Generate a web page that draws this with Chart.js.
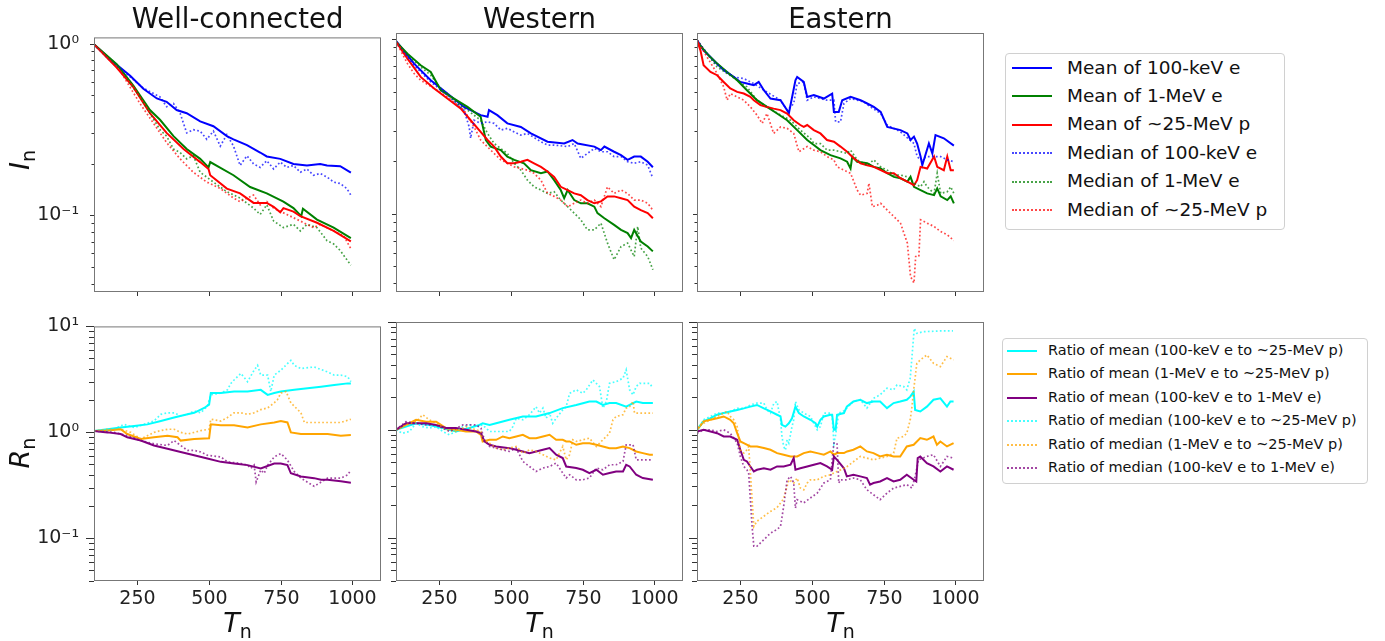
<!DOCTYPE html>
<html>
<head>
<meta charset="utf-8">
<script src="https://cdn.jsdelivr.net/npm/chart.js@4.4.1/dist/chart.umd.min.js"></script>
<style>
  body{margin:0;width:1385px;height:641px;background:#fff;position:relative;overflow:hidden;font-family:"DejaVu Sans",sans-serif;color:#111}
  canvas{position:absolute}
  .title{position:absolute;top:3px;font-size:27.5px;line-height:30px;transform:translateX(-50%);white-space:nowrap}
  .xlab,.ylab{position:absolute;font-size:27px;line-height:1;white-space:nowrap}
  .xlab{transform:translate(-50%,-50%)}
  .ylab{transform:translate(-50%,-50%) rotate(-90deg)}
  .xlab sub,.ylab sub{font-size:19px;vertical-align:-6px;font-style:normal}
  .legend{position:absolute;border:1px solid #d0d0d0;border-radius:4px;background:#fff}
  .lrow{position:absolute;white-space:nowrap}
  .lline{position:absolute;height:0}
</style>
</head>
<body>
<script>
// ---- x positions (T_n) and values, as [T, value] pairs ----
// Top row: normalised intensity I_n
const wcMean100keV = [[100,0.99],[156,0.81],[226,0.65],[272,0.546],[319,0.479],[353,0.458],[388,0.41],[423,0.393],[470,0.352],[516,0.33],[563,0.289],[586,0.277],[633,0.256],[679,0.232],[702,0.22],[749,0.213],[795,0.199],[842,0.195],[888,0.199],[912,0.195],[958,0.193],[995,0.177]];
const wcMean1MeV = [[100,0.99],[179,0.759],[237,0.57],[260,0.5],[295,0.41],[330,0.36],[377,0.289],[423,0.243],[470,0.213],[499,0.19],[505,0.204],[586,0.171],[644,0.146],[702,0.134],[760,0.12],[795,0.11],[822,0.0987],[828,0.109],[877,0.0944],[935,0.0847],[995,0.0736]];
const wcMean25MeV = [[100,0.99],[179,0.726],[237,0.558],[295,0.393],[353,0.302],[412,0.243],[470,0.204],[499,0.186],[505,0.171],[563,0.143],[609,0.134],[656,0.118],[702,0.118],[726,0.112],[749,0.104],[760,0.11],[795,0.105],[819,0.0987],[877,0.0904],[935,0.081],[995,0.0704]];
const wcMedian100keV = [[100,0.99],[156,0.8],[226,0.64],[272,0.55],[330,0.489],[353,0.429],[377,0.448],[400,0.393],[423,0.302],[446,0.315],[470,0.309],[493,0.277],[516,0.309],[540,0.253],[563,0.295],[586,0.253],[609,0.195],[633,0.222],[656,0.199],[679,0.19],[702,0.208],[726,0.186],[749,0.204],[772,0.19],[795,0.195],[819,0.178],[842,0.186],[865,0.171],[888,0.175],[912,0.167],[935,0.156],[958,0.153],[981,0.143],[995,0.131]];
const wcMedian1MeV = [[100,0.99],[191,0.71],[260,0.489],[330,0.315],[353,0.289],[377,0.243],[400,0.232],[423,0.213],[446,0.222],[470,0.178],[516,0.156],[563,0.137],[609,0.126],[656,0.11],[679,0.101],[702,0.115],[726,0.0925],[760,0.0847],[795,0.0885],[819,0.081],[842,0.0885],[877,0.0847],[912,0.071],[935,0.068],[958,0.0623],[995,0.0511]];
const wcMedian25MeV = [[100,0.99],[191,0.695],[260,0.448],[307,0.344],[353,0.265],[400,0.213],[446,0.178],[493,0.156],[540,0.143],[586,0.126],[609,0.12],[656,0.131],[679,0.115],[702,0.12],[726,0.11],[772,0.101],[819,0.0925],[865,0.0847],[888,0.0885],[935,0.081],[970,0.0759],[995,0.0637]];

const wMean100keV = [[100,0.98],[163,0.726],[221,0.583],[279,0.489],[337,0.41],[395,0.368],[419,0.36],[424,0.393],[453,0.368],[488,0.33],[535,0.315],[570,0.289],[628,0.259],[686,0.253],[715,0.265],[733,0.253],[791,0.243],[814,0.232],[826,0.243],[860,0.227],[884,0.217],[907,0.204],[930,0.213],[953,0.213],[977,0.199],[995,0.185]];
const wMean1MeV = [[100,0.97],[140,0.828],[186,0.71],[221,0.65],[256,0.511],[302,0.458],[349,0.41],[395,0.36],[413,0.265],[430,0.243],[465,0.232],[488,0.213],[512,0.204],[546,0.195],[570,0.178],[605,0.171],[628,0.175],[651,0.156],[674,0.137],[686,0.123],[698,0.137],[721,0.12],[744,0.115],[767,0.115],[791,0.11],[802,0.101],[826,0.0944],[860,0.0865],[884,0.081],[907,0.0776],[919,0.0726],[930,0.081],[953,0.0695],[977,0.065],[995,0.061]];
const wMean25MeV = [[100,0.97],[140,0.775],[186,0.609],[233,0.523],[279,0.458],[326,0.401],[360,0.344],[395,0.295],[419,0.265],[442,0.243],[465,0.213],[488,0.195],[512,0.195],[535,0.199],[558,0.204],[581,0.195],[605,0.186],[628,0.175],[651,0.163],[674,0.143],[698,0.137],[721,0.131],[744,0.128],[767,0.12],[791,0.115],[814,0.118],[837,0.126],[860,0.126],[884,0.123],[907,0.12],[930,0.11],[953,0.105],[977,0.101],[995,0.0944]];
const wMedian100keV = [[100,0.97],[163,0.71],[221,0.57],[279,0.479],[337,0.393],[355,0.315],[360,0.271],[372,0.344],[395,0.33],[419,0.337],[442,0.33],[465,0.302],[488,0.309],[512,0.295],[535,0.283],[558,0.289],[605,0.259],[628,0.248],[651,0.248],[698,0.243],[721,0.253],[744,0.208],[767,0.222],[791,0.237],[814,0.227],[837,0.227],[860,0.213],[884,0.213],[907,0.199],[930,0.195],[953,0.199],[977,0.19],[995,0.16]];
const wMedian1MeV = [[100,0.97],[140,0.81],[186,0.695],[221,0.623],[256,0.523],[279,0.489],[314,0.429],[349,0.393],[395,0.344],[419,0.289],[442,0.253],[488,0.222],[512,0.195],[535,0.178],[558,0.156],[581,0.143],[605,0.137],[628,0.131],[651,0.134],[674,0.12],[698,0.11],[721,0.101],[744,0.0925],[767,0.081],[791,0.081],[814,0.0885],[837,0.068],[860,0.0546],[884,0.065],[907,0.068],[930,0.057],[942,0.0847],[953,0.0637],[977,0.057],[995,0.0479]];
const wMedian25MeV = [[100,0.97],[140,0.726],[163,0.637],[186,0.583],[233,0.523],[279,0.468],[337,0.393],[372,0.315],[395,0.265],[430,0.232],[465,0.204],[488,0.195],[512,0.186],[558,0.178],[581,0.171],[605,0.156],[628,0.131],[651,0.126],[674,0.12],[698,0.11],[721,0.115],[744,0.12],[767,0.115],[791,0.12],[814,0.11],[837,0.143],[860,0.131],[884,0.137],[907,0.131],[930,0.12],[953,0.12],[977,0.115],[995,0.105]];

const eMean100keV = [[100,0.99],[123,0.865],[158,0.759],[193,0.665],[228,0.609],[251,0.57],[274,0.558],[298,0.546],[315,0.57],[333,0.511],[356,0.458],[391,0.448],[414,0.393],[420,0.376],[443,0.583],[449,0.609],[472,0.57],[484,0.468],[507,0.479],[542,0.458],[571,0.489],[577,0.384],[594,0.384],[606,0.448],[635,0.468],[670,0.448],[693,0.429],[716,0.41],[740,0.384],[763,0.315],[809,0.302],[833,0.289],[844,0.265],[856,0.277],[867,0.253],[879,0.213],[885,0.19],[908,0.253],[920,0.222],[931,0.283],[960,0.271],[995,0.246]];
const eMean1MeV = [[100,0.97],[135,0.828],[170,0.726],[205,0.65],[240,0.583],[274,0.511],[309,0.448],[344,0.41],[379,0.376],[414,0.344],[449,0.302],[484,0.265],[507,0.248],[530,0.232],[565,0.217],[600,0.208],[623,0.199],[635,0.182],[641,0.213],[658,0.199],[693,0.195],[716,0.186],[740,0.182],[763,0.171],[786,0.163],[809,0.16],[833,0.153],[844,0.163],[856,0.143],[879,0.137],[902,0.131],[926,0.128],[937,0.14],[949,0.126],[972,0.12],[984,0.126],[995,0.115]];
const eMean25MeV = [[100,0.99],[112,0.865],[123,0.71],[147,0.65],[170,0.623],[193,0.57],[216,0.523],[240,0.5],[263,0.489],[286,0.468],[298,0.448],[321,0.42],[344,0.41],[367,0.401],[391,0.393],[414,0.376],[437,0.344],[460,0.323],[472,0.315],[484,0.323],[507,0.302],[530,0.289],[553,0.265],[577,0.259],[600,0.243],[623,0.227],[647,0.208],[670,0.195],[693,0.19],[716,0.186],[740,0.178],[763,0.171],[786,0.171],[809,0.16],[833,0.153],[856,0.146],[867,0.156],[879,0.186],[902,0.182],[926,0.213],[937,0.186],[960,0.178],[972,0.213],[984,0.178],[995,0.178]];
const eMedian100keV = [[100,0.99],[158,0.742],[228,0.609],[263,0.596],[298,0.558],[333,0.511],[391,0.448],[414,0.393],[426,0.41],[437,0.429],[449,0.558],[472,0.57],[484,0.448],[507,0.468],[553,0.448],[577,0.448],[583,0.337],[600,0.337],[612,0.429],[635,0.458],[681,0.438],[705,0.41],[740,0.376],[763,0.323],[809,0.295],[856,0.253],[867,0.213],[879,0.204],[902,0.213],[926,0.213],[949,0.213],[972,0.204],[995,0.199]];
const eMedian1MeV = [[100,0.99],[135,0.828],[170,0.695],[205,0.637],[240,0.583],[274,0.534],[309,0.448],[344,0.41],[391,0.368],[426,0.344],[460,0.302],[495,0.271],[507,0.253],[530,0.253],[553,0.232],[577,0.232],[600,0.227],[623,0.222],[635,0.232],[658,0.204],[693,0.19],[716,0.204],[740,0.186],[763,0.178],[786,0.167],[809,0.167],[833,0.163],[856,0.15],[879,0.143],[891,0.153],[902,0.143],[926,0.131],[937,0.171],[949,0.131],[972,0.134],[984,0.143],[995,0.131]];
const eMedian25MeV = [[100,0.99],[135,0.792],[170,0.637],[193,0.534],[205,0.448],[216,0.489],[240,0.468],[263,0.448],[286,0.41],[309,0.368],[327,0.33],[344,0.376],[367,0.289],[391,0.315],[414,0.309],[437,0.289],[455,0.227],[484,0.243],[507,0.232],[530,0.227],[553,0.213],[577,0.204],[588,0.186],[612,0.178],[635,0.171],[658,0.137],[670,0.128],[693,0.131],[699,0.15],[711,0.11],[728,0.112],[740,0.115],[763,0.105],[786,0.0966],[809,0.0885],[833,0.068],[844,0.0438],[856,0.0402],[862,0.057],[873,0.057],[879,0.0925],[902,0.0885],[926,0.0847],[949,0.0792],[972,0.0759],[995,0.0704]];

// Bottom row: ratios R_n
const wcRatioMean100k25M = [[100,1.03],[147,1.07],[193,1.11],[240,1.15],[286,1.19],[333,1.28],[379,1.38],[426,1.48],[449,1.53],[484,1.7],[501,1.83],[507,2.35],[542,2.35],[588,2.43],[635,2.43],[681,2.52],[705,2.26],[728,2.35],[751,2.43],[798,2.52],[844,2.61],[891,2.7],[937,2.8],[984,2.9],[995,2.9]];
const wcRatioMean1M25M = [[100,1.03],[147,1.04],[193,1.07],[216,0.965],[263,0.868],[309,0.899],[356,0.931],[391,0.899],[402,0.837],[449,0.868],[501,0.88],[507,1.19],[542,1.17],[588,1.17],[635,1.11],[681,1.19],[728,1.24],[751,1.28],[774,1.24],[786,1.0],[821,0.965],[867,0.965],[914,0.965],[960,0.931],[995,0.945]];
const wcRatioMean100k1M = [[100,1.03],[147,1.0],[193,0.965],[216,0.899],[263,0.837],[309,0.753],[356,0.701],[402,0.653],[449,0.608],[495,0.566],[542,0.527],[588,0.509],[635,0.491],[681,0.457],[728,0.509],[751,0.509],[774,0.491],[786,0.411],[821,0.383],[867,0.37],[891,0.357],[914,0.357],[960,0.345],[995,0.335]];
const wcRatioMedian100k25M = [[100,1.03],[170,1.07],[205,1.19],[240,1.11],[274,1.19],[309,1.28],[333,1.48],[356,1.53],[379,1.53],[402,1.43],[426,1.48],[449,1.59],[472,1.53],[495,1.77],[507,2.26],[542,2.35],[565,2.52],[577,2.9],[588,3.12],[612,3.6],[635,3.01],[658,3.86],[670,4.29],[681,3.47],[705,3.47],[716,2.43],[728,3.47],[751,3.86],[774,4.45],[786,4.78],[798,4.29],[821,4.0],[867,4.14],[914,3.72],[937,3.47],[960,3.47],[984,3.35],[995,3.01]];
const wcRatioMedian1M25M = [[100,1.03],[147,1.07],[193,1.07],[228,1.0],[263,0.868],[309,1.0],[333,1.04],[356,1.07],[379,1.07],[402,1.0],[426,0.965],[449,1.0],[472,1.04],[501,1.07],[507,1.33],[542,1.28],[565,1.38],[588,1.53],[612,1.53],[635,1.48],[658,1.53],[681,1.64],[705,1.7],[728,1.9],[739,2.03],[751,2.35],[769,2.43],[786,1.9],[821,1.53],[833,1.24],[867,1.24],[914,1.24],[960,1.24],[995,1.33]];
const wcRatioMedian100k1M = [[100,1.03],[170,1.0],[216,0.931],[263,0.837],[309,0.78],[356,0.753],[379,0.837],[402,0.753],[426,0.676],[449,0.676],[472,0.653],[495,0.608],[542,0.587],[565,0.527],[612,0.509],[635,0.491],[646,0.457],[658,0.491],[665,0.34],[681,0.442],[693,0.411],[705,0.491],[728,0.587],[751,0.63],[763,0.587],[774,0.547],[798,0.426],[821,0.37],[867,0.31],[914,0.37],[960,0.37],[984,0.397],[995,0.442]];

const wRatioMean100k25M = [[100,1.0],[135,1.07],[170,1.15],[216,1.11],[263,1.04],[309,0.965],[356,1.04],[391,1.11],[402,1.15],[426,1.11],[449,1.15],[495,1.24],[542,1.33],[588,1.33],[635,1.43],[681,1.59],[728,1.7],[774,1.83],[798,1.83],[821,1.7],[844,1.77],[867,1.77],[902,1.64],[914,1.7],[937,1.83],[960,1.77],[995,1.77]];
const wRatioMean1M25M = [[100,1.0],[135,1.11],[170,1.24],[205,1.19],[240,1.19],[274,1.04],[309,1.0],[344,0.965],[379,0.965],[396,0.899],[402,0.78],[426,0.808],[449,0.808],[472,0.868],[495,0.837],[519,0.868],[542,0.899],[565,0.837],[588,0.837],[612,0.868],[635,0.899],[658,0.808],[681,0.808],[693,0.78],[705,0.78],[728,0.726],[751,0.752],[774,0.752],[798,0.726],[821,0.701],[844,0.676],[867,0.676],[891,0.701],[914,0.676],[937,0.63],[960,0.608],[984,0.587],[995,0.587]];
const wRatioMean100k1M = [[100,1.0],[135,1.15],[170,1.15],[205,1.15],[240,1.11],[274,1.04],[309,1.04],[344,1.0],[379,0.965],[396,0.931],[408,0.78],[426,0.726],[449,0.701],[495,0.676],[519,0.653],[542,0.63],[565,0.608],[588,0.63],[612,0.653],[635,0.676],[658,0.587],[681,0.547],[693,0.457],[728,0.442],[751,0.426],[774,0.397],[798,0.426],[821,0.383],[844,0.397],[867,0.411],[891,0.411],[902,0.474],[914,0.457],[937,0.383],[960,0.357],[995,0.344]];
const wRatioMedian100k25M = [[100,1.0],[123,0.93],[147,0.965],[170,1.15],[193,1.07],[216,1.04],[240,1.07],[263,0.965],[286,0.9],[309,0.965],[333,1.07],[356,1.11],[379,1.07],[402,1.11],[426,0.965],[449,0.965],[472,0.965],[495,0.965],[507,1.07],[519,1.28],[542,1.24],[565,1.38],[588,1.64],[600,1.43],[612,1.59],[623,1.28],[635,1.43],[646,1.15],[658,1.28],[681,1.53],[693,1.64],[705,2.18],[728,2.35],[751,2.18],[763,2.35],[786,2.9],[809,2.52],[821,1.59],[833,1.83],[844,2.7],[867,2.8],[891,3.01],[902,3.6],[914,2.35],[926,2.11],[937,2.52],[949,2.7],[984,2.7],[995,2.43]];
const wRatioMedian1M25M = [[100,1.0],[135,1.11],[170,1.19],[193,1.38],[216,1.24],[240,1.15],[274,1.0],[309,0.965],[344,1.07],[379,1.0],[396,0.965],[402,0.808],[426,0.752],[449,0.676],[472,0.653],[495,0.676],[519,0.701],[542,0.608],[565,0.653],[588,0.63],[612,0.587],[635,0.547],[658,0.527],[681,0.701],[693,0.527],[705,0.587],[716,0.808],[728,0.78],[751,0.808],[774,0.837],[798,0.701],[821,0.808],[844,0.93],[856,1.24],[867,1.33],[891,1.38],[902,1.59],[914,1.64],[926,1.83],[931,1.43],[960,1.43],[995,1.43]];
const wRatioMedian100k1M = [[100,1.0],[135,1.19],[170,1.15],[205,1.11],[240,1.11],[286,0.965],[333,1.11],[379,1.11],[396,1.04],[408,0.808],[426,0.701],[449,0.676],[495,0.63],[519,0.676],[542,0.509],[565,0.457],[588,0.411],[612,0.442],[635,0.457],[658,0.491],[681,0.397],[693,0.357],[705,0.383],[728,0.344],[751,0.344],[774,0.357],[798,0.442],[821,0.426],[844,0.474],[867,0.474],[891,0.509],[902,0.726],[926,0.726],[937,0.527],[984,0.527],[995,0.527]];

const eRatioMean100k25M = [[100,1.0],[123,1.2],[147,1.28],[170,1.38],[193,1.43],[216,1.48],[240,1.53],[263,1.58],[286,1.64],[309,1.7],[333,1.58],[356,1.48],[379,1.38],[391,1.33],[396,1.11],[408,1.07],[420,1.15],[431,1.28],[443,1.64],[455,1.43],[472,1.33],[495,1.24],[513,1.15],[519,1.07],[530,1.24],[542,1.33],[565,1.38],[571,1.38],[577,1.0],[583,1.0],[588,1.38],[612,1.43],[622,1.64],[645,1.83],[669,1.9],[692,1.77],[715,1.83],[738,1.83],[762,1.59],[785,1.77],[808,1.83],[831,1.9],[843,2.03],[855,2.26],[860,1.53],[878,1.48],[901,1.64],[924,1.9],[948,1.96],[971,1.64],[983,1.83],[994,1.83]];
const eRatioMean1M25M = [[100,1.0],[123,1.2],[147,1.24],[170,1.28],[193,1.33],[216,1.24],[228,1.15],[240,0.93],[251,0.78],[263,0.753],[286,0.701],[309,0.701],[333,0.677],[356,0.653],[379,0.608],[402,0.587],[426,0.566],[449,0.566],[472,0.608],[495,0.63],[519,0.608],[542,0.587],[565,0.63],[577,0.587],[588,0.608],[612,0.608],[623,0.63],[645,0.653],[669,0.701],[692,0.63],[715,0.608],[738,0.566],[762,0.587],[785,0.566],[808,0.566],[831,0.701],[855,0.726],[878,0.838],[901,0.808],[924,0.867],[936,0.726],[948,0.779],[971,0.701],[994,0.753]];
const eRatioMean100k1M = [[100,0.965],[123,1.0],[147,0.965],[170,0.93],[193,0.867],[216,0.867],[240,0.808],[251,0.653],[263,0.527],[274,0.509],[286,0.457],[298,0.411],[309,0.426],[333,0.44],[356,0.426],[379,0.457],[402,0.457],[426,0.474],[437,0.547],[443,0.426],[460,0.44],[484,0.457],[507,0.474],[530,0.491],[553,0.457],[571,0.426],[577,0.566],[588,0.527],[612,0.44],[622,0.37],[645,0.383],[669,0.37],[692,0.357],[703,0.31],[715,0.321],[738,0.332],[762,0.357],[785,0.332],[808,0.344],[831,0.383],[855,0.344],[864,0.332],[869,0.547],[878,0.566],[901,0.491],[924,0.457],[948,0.411],[971,0.457],[994,0.426]];
const eRatioMedian100k25M = [[100,1.0],[123,1.24],[147,1.33],[170,1.43],[193,1.43],[216,1.48],[240,1.58],[263,1.58],[286,1.7],[309,1.77],[333,1.77],[344,1.53],[356,1.43],[368,1.77],[379,1.83],[391,1.24],[396,0.867],[402,0.701],[408,0.65],[414,0.808],[420,0.753],[431,1.07],[437,1.24],[443,1.83],[455,1.53],[472,1.43],[495,1.33],[519,1.0],[530,1.07],[542,1.43],[565,1.43],[571,1.33],[577,0.75],[583,0.9],[594,1.43],[612,1.5],[645,1.83],[669,1.9],[692,1.59],[715,1.96],[738,2.11],[762,2.43],[785,2.35],[797,2.61],[820,2.52],[831,2.35],[843,3.01],[849,4.77],[857,8.74],[866,7.86],[890,8.13],[948,8.26],[992,8.26]];
const eRatioMedian1M25M = [[100,1.04],[123,1.15],[147,1.24],[170,1.33],[193,1.43],[205,1.48],[216,1.33],[228,1.24],[240,1.07],[245,0.867],[251,0.653],[263,0.608],[274,0.653],[280,0.701],[286,0.397],[292,0.225],[298,0.127],[309,0.142],[333,0.158],[356,0.175],[379,0.19],[402,0.23],[420,0.344],[437,0.321],[449,0.357],[460,0.289],[472,0.278],[484,0.321],[495,0.344],[519,0.344],[542,0.37],[565,0.383],[588,0.41],[612,0.44],[623,0.457],[669,0.566],[715,0.527],[762,0.566],[785,0.608],[797,0.838],[820,0.867],[831,0.931],[843,1.24],[849,1.64],[855,2.35],[866,4.14],[878,4.45],[901,4.95],[924,4.14],[948,3.86],[971,4.77],[994,4.45]];
const eRatioMedian100k1M = [[100,0.93],[123,1.0],[147,1.0],[170,0.965],[193,1.0],[216,0.93],[240,0.753],[251,0.566],[263,0.457],[274,0.426],[280,0.397],[286,0.225],[292,0.127],[298,0.0832],[309,0.0832],[333,0.0958],[356,0.11],[379,0.119],[391,0.127],[402,0.195],[414,0.344],[426,0.37],[437,0.321],[443,0.188],[449,0.225],[472,0.21],[495,0.233],[519,0.259],[542,0.321],[565,0.344],[571,0.527],[577,0.753],[588,0.753],[594,0.321],[600,0.344],[622,0.344],[645,0.357],[669,0.344],[680,0.31],[692,0.278],[715,0.25],[738,0.225],[762,0.259],[785,0.288],[808,0.299],[831,0.31],[849,0.288],[860,0.37],[872,0.527],[901,0.566],[924,0.587],[948,0.457],[971,0.566],[994,0.547]];

const T_TICKS = [250, 500, 750, 1000];
const TITLES = ['Well-connected', 'Western', 'Eastern'];
const TOP_LABELS = ['Mean of 100-keV e', 'Mean of 1-MeV e', 'Mean of ~25-MeV p', 'Median of 100-keV e', 'Median of 1-MeV e', 'Median of ~25-MeV p'];
const BOT_LABELS = ['Ratio of mean (100-keV e to ~25-MeV p)', 'Ratio of mean (1-MeV e to ~25-MeV p)', 'Ratio of mean (100-keV e to 1-MeV e)', 'Ratio of median (100-keV e to ~25-MeV p)', 'Ratio of median (1-MeV e to ~25-MeV p)', 'Ratio of median (100-keV e to 1-MeV e)'];

// ---- layout ----
const FONT = '"DejaVu Sans", sans-serif';
const COLS = [94, 396, 697], ROWS = [33, 322];
const AW = 287, AH = 259;
const PADL = 60, PADT = 14, PADR = 14, PADB = 30;
const YR = [[0.0357, 1.087], [0.0396, 10]];
const TOP_COLORS = ['#0000ff', '#008000', '#ff0000'];
const BOT_COLORS = ['#00ffff', '#ffa500', '#800080'];

function fade(hex, a){
  const n = parseInt(hex.slice(1), 16);
  return `rgba(${n>>16},${(n>>8)&255},${n&255},${a})`;
}
const isPow10 = v => Math.abs(Math.log10(v) - Math.round(Math.log10(v))) < 1e-6;
function powLabel(v){
  const sup = {'-':'\u207b','0':'\u2070','1':'\u00b9','2':'\u00b2'};
  return '10' + String(Math.round(Math.log10(v))).split('').map(c=>sup[c]).join('');
}
function logTicks(min, max){
  const out = [];
  for(let e=-3; e<=2; e++) for(let m=1; m<=9; m++){
    const v = +(m*Math.pow(10,e)).toPrecision(6);
    if(v>=min*0.999 && v<=max*1.001) out.push({value:v, major: m===1});
  }
  return out;
}

// frame, outward tick marks and x tick labels, matplotlib style
const frameTicks = {
  id:'frameTicks',
  afterDraw(chart, args, opts){
    const {ctx, chartArea:a, scales} = chart;
    ctx.save();
    ctx.strokeStyle = '#333'; ctx.lineWidth = 1;
    scales.y.ticks.forEach(t=>{
      const y = Math.round(scales.y.getPixelForValue(t.value)) + 0.5;
      const len = t.major ? opts.major : opts.minor;
      ctx.beginPath(); ctx.moveTo(a.left, y); ctx.lineTo(a.left - len, y); ctx.stroke();
    });
    ctx.font = `19px ${FONT}`; ctx.fillStyle = '#222';
    ctx.textAlign = 'center'; ctx.textBaseline = 'alphabetic';
    scales.x.ticks.forEach(t=>{
      const x = Math.round(scales.x.getPixelForValue(t.value)) + 0.5;
      ctx.beginPath(); ctx.moveTo(x, a.bottom); ctx.lineTo(x, a.bottom + opts.x); ctx.stroke();
      if(opts.xLabels) ctx.fillText(String(t.value), x, a.bottom + 23);
    });
    ctx.strokeStyle = '#777';
    ctx.strokeRect(a.left + 0.5, a.top + 0.5, a.width - 1, a.height - 1);
    ctx.restore();
  }
};

function panel(col, row, series){
  const colors = row ? BOT_COLORS : TOP_COLORS;
  const cv = document.createElement('canvas');
  cv.width = AW + PADL + PADR; cv.height = AH + PADT + PADB;
  cv.style.left = (COLS[col] - PADL) + 'px';
  cv.style.top = (ROWS[row] - PADT) + 'px';
  document.body.appendChild(cv);
  const yr = YR[row];
  new Chart(cv, {
    type:'line',
    data:{datasets: series.map((pts,i)=>{
      const dotted = i >= 3, c = colors[i % 3];
      return {
        data: pts.map(p=>({x:p[0], y:p[1]})),
        borderColor: dotted ? fade(c, 0.72) : c,
        borderWidth: dotted ? 1.7 : 2,
        borderDash: dotted ? [1.7, 2.3] : [],
        pointRadius:0, tension:0, fill:false,
        order: series.length - i
      };
    })},
    options:{
      responsive:false, animation:false, events:[],
      layout:{padding:{top:PADT, right:PADR, left:0, bottom:0}},
      plugins:{legend:{display:false}, tooltip:{enabled:false},
        frameTicks:{major: row ? 8 : 4, minor: row ? 5 : 2.5, x: 4, xLabels: row===1}},
      scales:{
        x:{type:'linear', min:100, max:1100, bounds:'data',
          grid:{display:false}, border:{display:false},
          afterBuildTicks: sc=>{ sc.ticks = T_TICKS.map(v=>({value:v})); },
          afterFit: sc=>{ sc.height = PADB; },
          ticks:{display:false}},
        y:{type:'logarithmic', min:yr[0], max:yr[1], bounds:'data',
          grid:{display:false}, border:{display:false},
          afterBuildTicks: sc=>{ sc.ticks = logTicks(yr[0], yr[1]); },
          afterFit: sc=>{ sc.width = PADL; },
          ticks:{display: col===0, font:{family:FONT, size:19}, color:'#222', padding:7, autoSkip:false,
            callback: v => isPow10(v) ? powLabel(v) : ''}}
      }
    },
    plugins:[frameTicks]
  });
}

panel(0, 0, [wcMean100keV, wcMean1MeV, wcMean25MeV, wcMedian100keV, wcMedian1MeV, wcMedian25MeV]);
panel(1, 0, [wMean100keV, wMean1MeV, wMean25MeV, wMedian100keV, wMedian1MeV, wMedian25MeV]);
panel(2, 0, [eMean100keV, eMean1MeV, eMean25MeV, eMedian100keV, eMedian1MeV, eMedian25MeV]);
panel(0, 1, [wcRatioMean100k25M, wcRatioMean1M25M, wcRatioMean100k1M, wcRatioMedian100k25M, wcRatioMedian1M25M, wcRatioMedian100k1M]);
panel(1, 1, [wRatioMean100k25M, wRatioMean1M25M, wRatioMean100k1M, wRatioMedian100k25M, wRatioMedian1M25M, wRatioMedian100k1M]);
panel(2, 1, [eRatioMean100k25M, eRatioMean1M25M, eRatioMean100k1M, eRatioMedian100k25M, eRatioMedian1M25M, eRatioMedian100k1M]);

// ---- text: titles, axis labels ----
function addDiv(cls, html, css){
  const d = document.createElement('div'); d.className = cls; d.innerHTML = html;
  Object.assign(d.style, css); document.body.appendChild(d); return d;
}
TITLES.forEach((t,i)=> addDiv('title', t, {left:(COLS[i] + AW/2) + 'px'}));
COLS.forEach(c=> addDiv('xlab', '<i>T</i><sub>n</sub>', {left:(c + AW/2) + 'px', top:'625px'}));
addDiv('ylab', '<i>I</i><sub>n</sub>', {left:'22px', top:'160px'});
addDiv('ylab', '<i>R</i><sub>n</sub>', {left:'22px', top:'453px'});

// ---- legends ----
function legend(box, labels, colors, rowY0, rowStep, lineX, lineW, textX, fontSize){
  addDiv('legend', '', {left:box[0]+'px', top:box[1]+'px', width:box[2]+'px', height:box[3]+'px'});
  labels.forEach((lab,i)=>{
    const cy = rowY0 + i*rowStep, dotted = i >= 3, c = colors[i % 3];
    addDiv('lline', '', {left:lineX+'px', top:(cy-1)+'px', width:lineW+'px',
      borderTop: dotted ? `2px dotted ${fade(c,0.72)}` : `2px solid ${c}`});
    addDiv('lrow', lab, {left:textX+'px', top:(cy - fontSize*0.62)+'px', fontSize:fontSize+'px', lineHeight:(fontSize*1.2)+'px'});
  });
}
legend([1005, 53, 278, 175], TOP_LABELS, TOP_COLORS, 68, 28.4, 1012, 40, 1067, 18.5);
legend([1002, 338, 364, 144], BOT_LABELS, BOT_COLORS, 351, 23.4, 1007, 30, 1048, 14.5);
</script>
</body>
</html>
